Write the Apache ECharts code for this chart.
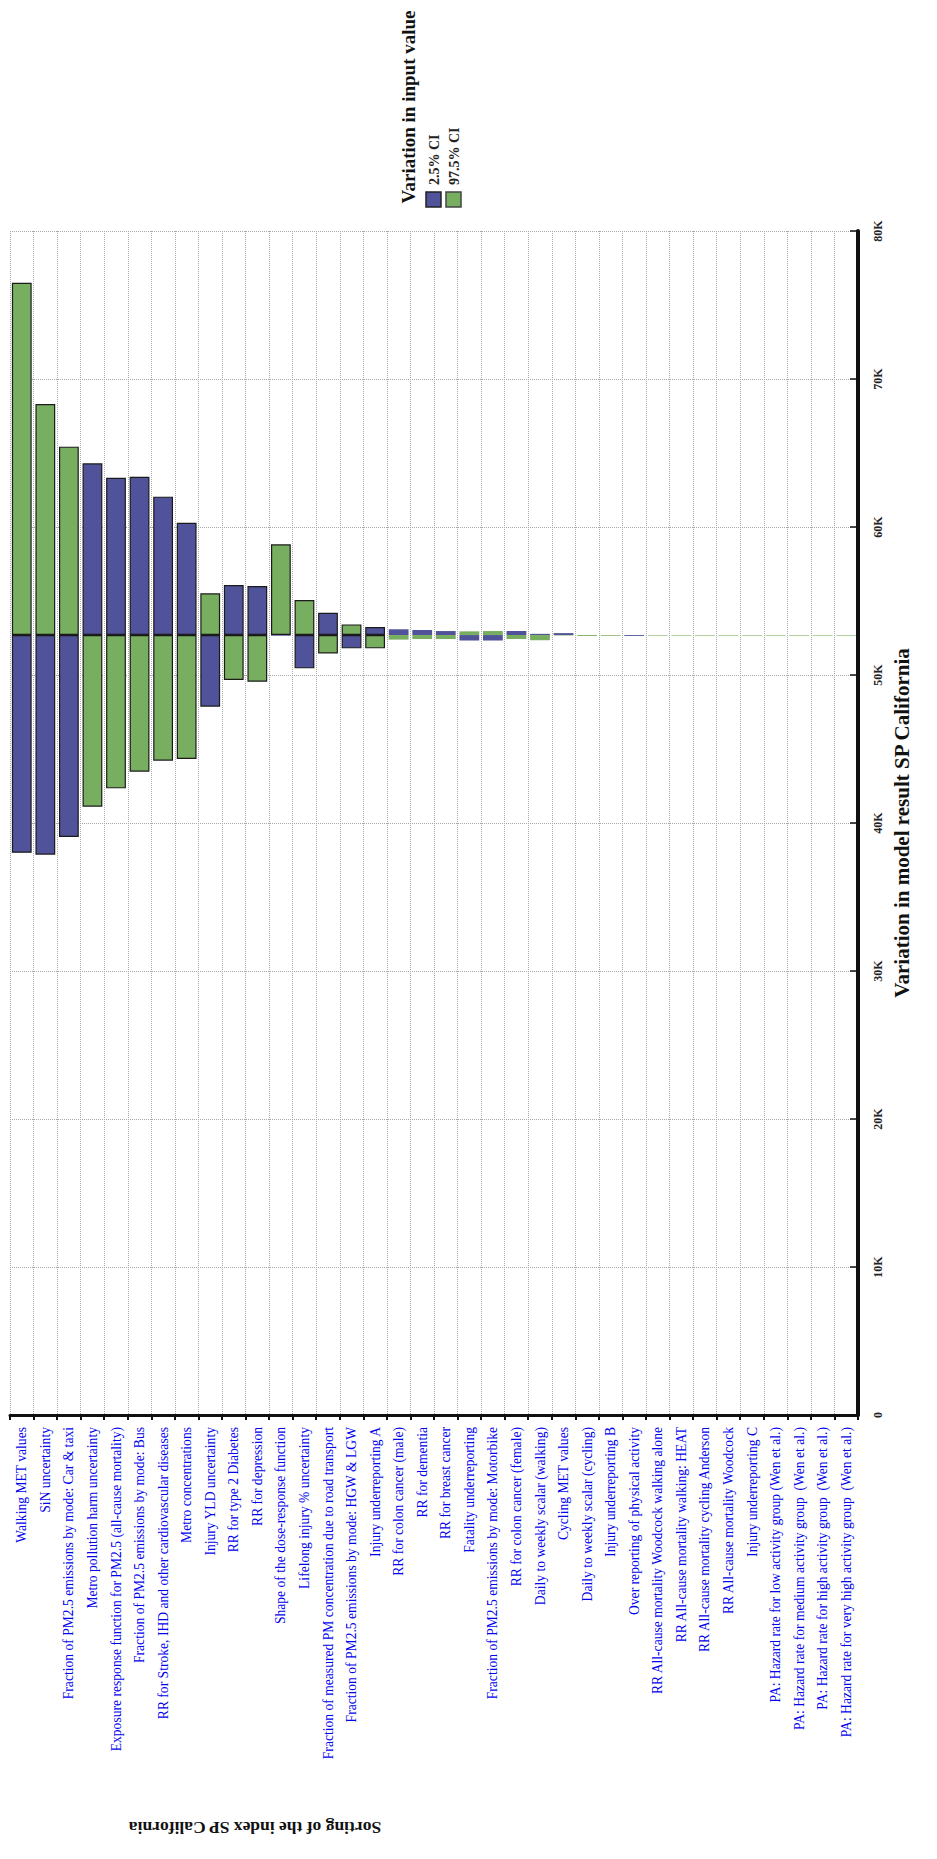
<!DOCTYPE html>
<html><head><meta charset="utf-8">
<script src="https://cdn.jsdelivr.net/npm/echarts@6/dist/echarts.min.js"></script>
<style>html,body{margin:0;padding:0;background:#fff}#c{width:937px;height:1859px}</style>
</head><body><div id="c"></div>
<script>
const categories = [
  'Walking MET values',
  'SiN uncertainty',
  'Fraction of PM2.5 emissions by mode: Car & taxi',
  'Metro pollution harm uncertainty',
  'Exposure response function for PM2.5 (all-cause mortality)',
  'Fraction of PM2.5 emissions by mode: Bus',
  'RR for Stroke, IHD and other cardiovascular diseases',
  'Metro concentrations',
  'Injury YLD uncertainty',
  'RR for type 2 Diabetes',
  'RR for depression',
  'Shape of the dose-response function',
  'Lifelong injury % uncertainty',
  'Fraction of measured PM concentration due to road transport',
  'Fraction of PM2.5 emissions by mode: HGW & LGW',
  'Injury underreporting A',
  'RR for colon cancer (male)',
  'RR for dementia',
  'RR for breast cancer',
  'Fatality underreporting',
  'Fraction of PM2.5 emissions by mode: Motorbike',
  'RR for colon cancer (female)',
  'Daily to weekly scalar (walking)',
  'Cycling MET values',
  'Daily to weekly scalar (cycling)',
  'Injury underreporting B',
  'Over reporting of physical activity',
  'RR All-cause mortality Woodcock walking alone',
  'RR All-cause mortality walking: HEAT',
  'RR All-cause mortality cycling Anderson',
  'RR All-cause mortality Woodcock',
  'Injury underreporting C',
  'PA: Hazard rate for low activity group (Wen et al.)',
  'PA: Hazard rate for medium activity group  (Wen et al.)',
  'PA: Hazard rate for high activity group  (Wen et al.)',
  'PA: Hazard rate for very high activity group  (Wen et al.)'
];
// model result when input at 2.5% CI
const lowCI = [
  37990, 37860, 39050, 64300, 63330, 63400, 62050, 60290, 47860, 56080,
  56010, 52650, 50450, 54210, 51800, 53240, 53090, 53040, 52970, 52330,
  52330, 52970, 52780, 52830, 52700, 52700, 52640, 52700, 52700, 52700,
  52700, 52700, 52700, 52700, 52700, 52700
];
// model result when input at 97.5% CI
const highCI = [
  76500, 68310, 65430, 41100, 42340, 43470, 44210, 44320, 55520, 49660,
  49550, 58830, 55070, 51460, 53420, 51800, 52390, 52430, 52430, 52950,
  52970, 52430, 52350, 52670, 52640, 52650, 52700, 52660, 52660, 52660,
  52660, 52660, 52660, 52660, 52660, 52660
];
const baseValue = 52700;
const tickLabels = ['0', '10K', '20K', '30K', '40K', '50K', '60K', '70K', '80K'];

const BLUE = '#50539a';
const GREEN = '#78ae60';
const SERIF = '"Liberation Serif", "Times New Roman", serif';

function helper(arr) { return arr.map(v => Math.min(v, baseValue)); }
function diff(arr, color) {
  return arr.map(v => {
    const d = Math.abs(v - baseValue);
    return { value: d, itemStyle: { color: color, borderColor: '#1b1b1b', borderWidth: d > 400 ? 1.2 : 0 } };
  });
}

const chart = echarts.init(document.getElementById('c'), null, { renderer: 'svg' });
chart.setOption({
  animation: false,
  backgroundColor: '#ffffff',
  grid: { left: 10, right: 79, top: 231, bottom: 444, containLabel: false },
  xAxis: {
    type: 'category',
    data: categories,
    position: 'bottom',
    boundaryGap: true,
    axisLine: { show: true, lineStyle: { color: '#111', width: 3 } },
    axisTick: { show: true, interval: 0, length: 5, lineStyle: { color: '#111', width: 2 } },
    axisLabel: { interval: 0, rotate: 90, color: '#0000ee', fontFamily: SERIF, fontSize: 13.6, margin: 12 },
    splitLine: { show: true, interval: 0, lineStyle: { color: '#a8a8a8', type: 'dotted', width: 1 } }
  },
  yAxis: {
    type: 'value',
    position: 'right',
    min: 0, max: 80000, interval: 10000,
    name: 'Variation in model result SP California',
    nameLocation: 'middle',
    nameRotate: 90,
    nameGap: 24,
    nameTextStyle: { fontFamily: SERIF, fontWeight: 'bold', fontSize: 21, color: '#111' },
    axisLine: { show: true, lineStyle: { color: '#111', width: 4 } },
    axisTick: { show: true, inside: true, length: 8, lineStyle: { color: '#111', width: 1.5 } },
    axisLabel: {
      rotate: 90, margin: 14, fontFamily: SERIF, fontWeight: 'bold', fontSize: 12, color: '#222',
      formatter: v => tickLabels[Math.round(v / 10000)]
    },
    splitLine: { show: true, lineStyle: { color: '#a8a8a8', type: 'dotted', width: 1 } }
  },
  series: [
    { type: 'bar', stack: 'low', silent: true, barWidth: '84%', barGap: '-100%',
      itemStyle: { color: 'rgba(0,0,0,0)' }, data: helper(lowCI) },
    { type: 'bar', stack: 'low', name: '2.5% CI', barWidth: '84%', barGap: '-100%',
      data: diff(lowCI, BLUE) },
    { type: 'bar', stack: 'high', silent: true, barWidth: '84%', barGap: '-100%',
      itemStyle: { color: 'rgba(0,0,0,0)' }, data: helper(highCI) },
    { type: 'bar', stack: 'high', name: '97.5% CI', barWidth: '84%', barGap: '-100%',
      data: diff(highCI, GREEN) }
  ],
  graphic: [
    { type: 'text', x: 408, y: 107, rotation: Math.PI / 2,
      style: { text: 'Variation in input value', font: 'bold 19px ' + SERIF, fill: '#111',
        textAlign: 'center', textVerticalAlign: 'middle', align: 'center', verticalAlign: 'middle' } },
    { type: 'rect', shape: { x: 426, y: 192, width: 15, height: 15 },
      style: { fill: BLUE, stroke: '#222', lineWidth: 1.5 } },
    { type: 'rect', shape: { x: 446, y: 192, width: 15, height: 15 },
      style: { fill: GREEN, stroke: '#444', lineWidth: 1.5 } },
    { type: 'text', x: 434, y: 185, rotation: Math.PI / 2,
      style: { text: '2.5% CI', font: 'bold 14px ' + SERIF, fill: '#222',
        textAlign: 'left', textVerticalAlign: 'middle', align: 'left', verticalAlign: 'middle' } },
    { type: 'text', x: 454, y: 185, rotation: Math.PI / 2,
      style: { text: '97.5% CI', font: 'bold 14px ' + SERIF, fill: '#222',
        textAlign: 'left', textVerticalAlign: 'middle', align: 'left', verticalAlign: 'middle' } },
    { type: 'text', x: 255, y: 1828, rotation: Math.PI,
      style: { text: 'Sorting of the index SP California', font: 'bold 17.5px ' + SERIF, fill: '#111',
        textAlign: 'center', textVerticalAlign: 'middle', align: 'center', verticalAlign: 'middle' } }
  ]
});
</script>
</body></html>
